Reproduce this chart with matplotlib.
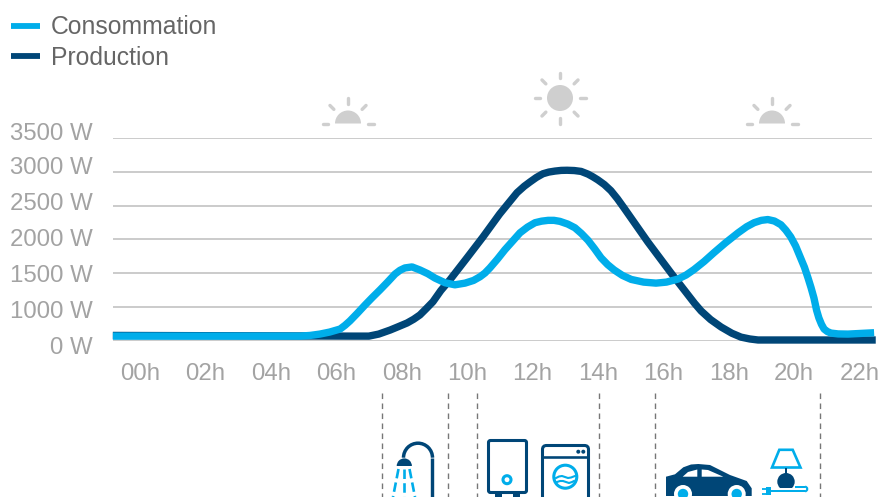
import numpy as np
import matplotlib
matplotlib.use("Agg")
import matplotlib.pyplot as plt
from matplotlib.patches import Circle, Polygon, FancyBboxPatch, Wedge, Arc, Rectangle
from matplotlib.transforms import ScaledTranslation

plt.rcParams['font.family'] = ['Liberation Sans', 'DejaVu Sans']

# ---------- data ----------
prod_hours = [-0.83, 6.5, 7.0, 7.3, 7.65, 7.9, 8.17, 8.37, 8.56, 8.76, 8.96, 9.2, 9.48, 10.0, 10.49, 11.0,
              11.53, 11.75, 11.93, 12.12, 12.32, 12.5, 12.69, 12.88, 13.06, 13.28, 13.49, 13.7,
              13.85, 14.0, 14.2, 14.4, 14.6, 14.8, 15.53, 16.24, 16.76, 16.96, 17.16, 17.45,
              17.77, 18.1, 18.38, 18.65, 18.9, 22.5]
prod_watts = [150, 130, 130, 190, 310, 410, 520, 630, 757, 950, 1075, 1240, 1400, 1725, 2035, 2375,
              2690, 2785, 2850, 2915, 2970, 2995, 3010, 3020, 3022, 3018, 3005, 2965,
              2925, 2880, 2810, 2720, 2600, 2465, 1960, 1500, 1175, 1050, 875, 620,
              400, 215, 100, 45, 15, 15]
cons_hours = [-0.83, 4.89, 5.2, 5.5, 5.8, 6.12, 6.27, 6.42, 6.65, 6.88, 7.1, 7.34, 7.57, 7.8, 7.95,
              8.1, 8.32, 8.56, 8.8, 9.02, 9.33, 9.63, 9.94, 10.2, 10.4, 10.55, 10.7, 10.93,
              11.16, 11.4, 11.62, 11.85, 12.08, 12.28, 12.48, 12.66, 12.84, 13.08, 13.3, 13.5,
              13.7, 13.9, 14.1, 14.3, 14.5, 14.75, 15.02, 15.4, 15.78, 16.1, 16.45, 16.7, 16.94,
              17.25, 17.55, 17.9, 18.29, 18.55, 18.78, 19.0, 19.2, 19.4, 19.6, 19.75, 19.9,
              20.05, 20.2, 20.32, 20.43, 20.52, 20.61, 20.69, 20.76, 20.84, 20.92, 21.02, 21.13,
              21.35, 21.65, 22.45]
cons_watts = [130, 130, 150, 190, 250, 340, 450, 580, 810, 1025, 1135, 1250, 1365, 1485, 1540,
              1575, 1590, 1545, 1490, 1425, 1355, 1325, 1350, 1390, 1445, 1500, 1575, 1705,
              1845, 1975, 2095, 2180, 2245, 2268, 2280, 2280, 2265, 2225, 2170, 2085,
              1985, 1860, 1725, 1625, 1545, 1465, 1405, 1365, 1350, 1365, 1410, 1470, 1550,
              1670, 1800, 1945, 2095, 2185, 2245, 2280, 2292, 2270, 2215, 2135, 2035,
              1900, 1725, 1585, 1425, 1285, 1130, 900, 670, 480, 340, 265, 220,
              195, 190, 230]
y_ticks = [0, 1000, 1500, 2000, 2500, 3000, 3500]
y_labels = ['0 W', '1000 W', '1500 W', '2000 W', '2500 W', '3000 W', '3500 W']
x_ticks = list(range(0, 23, 2))
x_labels = ['%02dh' % h for h in x_ticks]
series_names = ['Consommation', 'Production']

CYAN = '#00ADEA'
NAVY = '#004677'
GRID = '#BDBDBD'
TICK = '#A3A3A3'
SUN = '#CFCFCF'
W, H = 881, 497

fig = plt.figure(figsize=(W / 100, H / 100), dpi=100)

# overlay for the decorative pictograms, in pixel coordinates
deco = fig.add_axes([0, 0, 1, 1], zorder=0)
deco.set_xlim(0, W)
deco.set_ylim(H, 0)
deco.axis('off')

# main chart: x 113..872 px, y 138..340.5 px
L, R, T, B = 113, 872, 138, 340.5
ax = fig.add_axes([L / W, 1 - B / H, (R - L) / W, (B - T) / H], zorder=2)
ax.patch.set_alpha(0)
idx = np.arange(len(y_ticks), dtype=float)
ax.set_yscale('function', functions=(lambda v: np.interp(v, y_ticks, idx),
                                     lambda g: np.interp(g, idx, y_ticks)))
ax.set_ylim(0, 3500)
ax.set_xlim((L - 140) / 32.7, (R - 140) / 32.7)
ax.set_yticks(y_ticks)
ax.set_yticklabels(y_labels)
ax.minorticks_off()
ax.set_xticks(x_ticks)
ax.set_xticklabels(x_labels)
ax.tick_params(axis='both', length=0, labelsize=17.3, labelcolor=TICK)
ax.tick_params(axis='y', pad=14.5)
ax.tick_params(axis='x', pad=16)
for s in ax.spines.values():
    s.set_visible(False)
ax.grid(axis='y', color=GRID, lw=1.1)
ax.set_axisbelow(True)

# tick labels drift away from the gridlines in the original
offs = [-4.5, -3, -0.5, 2, 4, 6, 7]
for lab, dy in zip(ax.get_yticklabels(), offs):
    lab.set_transform(lab.get_transform() + ScaledTranslation(0, dy / 100, fig.dpi_scale_trans))

l2, = ax.plot(prod_hours, prod_watts, color=NAVY, lw=5.3, clip_on=False,
              solid_joinstyle='round', solid_capstyle='butt', zorder=3)
l1, = ax.plot(cons_hours, cons_watts, color=CYAN, lw=5.3, clip_on=False,
              solid_joinstyle='round', solid_capstyle='butt', zorder=4)

leg = fig.legend([l1, l2], series_names, loc='upper left',
                 bbox_to_anchor=(-1 / W, 1 - 3 / H),
                 bbox_transform=fig.transFigure, frameon=False, fontsize=17.8,
                 labelcolor='#666666', handlelength=1.17, handletextpad=0.43,
                 labelspacing=0.27, borderaxespad=0, borderpad=0.5)
leg.set_zorder(5)
for h in leg.get_lines():
    h.set_linewidth(4.2)


def ln(xs, ys, c, w, **k):
    k.setdefault('solid_capstyle', 'butt')
    deco.plot(xs, ys, color=c, lw=w * 0.72, **k)


def rays(cx, cy, angles):
    for a in angles:
        ca, sa = np.cos(np.radians(a)), np.sin(np.radians(a))
        ln([cx + 20 * ca, cx + 25.5 * ca], [cy - 20 * sa, cy - 25.5 * sa], SUN, 3.4,
           solid_capstyle='round')


# half suns
for cx in (348, 772):
    deco.add_patch(Wedge((cx, 123.5), 13, 180, 360, color=SUN, lw=0))
    rays(cx, 123.5, [0, 45, 90, 135, 180])
# full sun
deco.add_patch(Circle((560, 98), 13, color=SUN, lw=0))
rays(560, 98, range(0, 360, 45))

# dashed separators
for x in (381.5, 448, 477, 598.5, 655, 819.5):
    deco.plot([x, x], [393, 497], color='#777777', lw=1.0, dashes=(4, 3.2))

# shower
ln([432.3, 432.3], [457.7, 497], NAVY, 3.4)
deco.add_patch(Arc((418, 457.7), 29, 29, theta1=180, theta2=360, color=NAVY, lw=2.5))
deco.add_patch(Wedge((404.3, 466), 7.6, 180, 360, color=NAVY, lw=0))
for x0, x1 in ((398.5, 393), (404, 404), (409.5, 415)):
    deco.plot([x0, x1], [469, 497], color=CYAN, lw=1.9, dashes=(3.6, 1.6))

# water heater
deco.add_patch(FancyBboxPatch((488.5, 440.5), 38, 52, boxstyle='round,pad=0,rounding_size=2',
                              fc='white', ec=NAVY, lw=2.2))
for x in (495, 513):
    ln([x, x + 6.5], [495, 495], NAVY, 4)
deco.add_patch(Circle((507, 479.7), 4, fc='white', ec=CYAN, lw=2.2))

# washing machine
deco.add_patch(FancyBboxPatch((542.5, 445.5), 46, 60, boxstyle='round,pad=0,rounding_size=4',
                              fc='white', ec=NAVY, lw=2.2, clip_on=True))
ln([542, 589], [457.3, 457.3], NAVY, 2.6)
for x in (578.3, 583.3):
    deco.add_patch(Circle((x, 451.7), 2, color=NAVY, lw=0))
deco.add_patch(Circle((565.3, 476.7), 11.5, fc='white', ec=CYAN, lw=2.2))
deco.plot([556, 559, 562, 565, 568, 571, 575], [478, 476.5, 476, 477, 478, 477.5, 476],
          color=CYAN, lw=1.5)
deco.plot([557, 560, 563, 566, 569, 572, 574], [482, 481, 481, 482, 483, 482, 481],
          color=CYAN, lw=1.5)

# car
deco.add_patch(Polygon([(666, 476.7), (675, 474.3), (683.3, 467.3), (691, 464.5), (698.3, 464),
                        (710, 465), (720, 470), (730, 475), (746.7, 481), (751.7, 488.3),
                        (751.7, 496), (666, 496)], closed=True, color=NAVY, lw=0))
deco.add_patch(Polygon([(682.7, 476.7), (688, 472), (697.3, 469.5), (697.3, 476.7)],
                       closed=True, color='white', lw=0))
deco.add_patch(Polygon([(701.7, 469.5), (708, 470), (723.3, 476.7), (701.7, 476.7)],
                       closed=True, color='white', lw=0))
for x in (683, 736.7):
    deco.add_patch(Circle((x, 494), 9, color='white', lw=0))
    deco.add_patch(Circle((x, 494), 5.2, color=CYAN, lw=0))

# lamp + plug
deco.add_patch(Polygon([(779.3, 449.8), (792.7, 449.8), (800.5, 467.5), (772, 467.5)],
                       closed=True, fc='white', ec=CYAN, lw=1.9))
ln([786, 786], [468, 475], NAVY, 2)
deco.add_patch(Circle((786, 481.7), 8.7, color=NAVY, lw=0))
deco.add_patch(Rectangle((775, 488), 22, 6, color='white', lw=0))
ln([795, 805], [487, 487], CYAN, 2)
deco.add_patch(Arc((805, 489), 4.5, 4.5, theta1=-90, theta2=90, color=CYAN, lw=1.5))
ln([770, 805], [491, 491], CYAN, 2)
deco.add_patch(Polygon([(766, 487), (771, 487), (771, 495), (766, 495)], closed=True,
                       color=CYAN, lw=0))
ln([762, 767], [488.5, 488.5], CYAN, 1.8)
ln([762, 767], [493.5, 493.5], CYAN, 1.8)

fig.savefig('out.png', dpi=100)
